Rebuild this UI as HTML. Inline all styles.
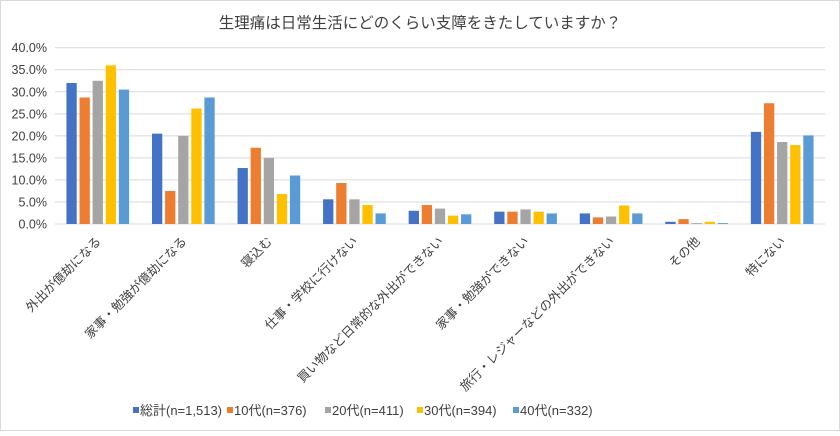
<!DOCTYPE html>
<html><head><meta charset="utf-8">
<style>
body{margin:0;background:#fff;}
svg text{font-family:"Liberation Sans","Noto Sans CJK JP",sans-serif;fill:#404040;}
</style></head>
<body>
<svg id="chart" width="840" height="431" xmlns="http://www.w3.org/2000/svg">
<rect x="0.5" y="0.5" width="839" height="430" fill="#fff" stroke="#d9d9d9"/>
<text x="420" y="28" text-anchor="middle" font-size="15.5">生理痛は日常生活にどのくらい支障をきたしていますか？</text>
<g id="grid"></g><g id="bars"></g><g id="xlabels"></g><g id="legend"></g>
</svg>
<script>
const categories=["外出が億劫になる","家事・勉強が億劫になる","寝込む","仕事・学校に行けない","買い物など日常的な外出ができない","家事・勉強ができない","旅行・レジャーなどの外出ができない","その他","特にない"];
const seriesNames=["総計(n=1,513)","10代(n=376)","20代(n=411)","30代(n=394)","40代(n=332)"];
const total=[32.0,20.5,12.7,5.6,3.0,2.8,2.4,0.5,20.9];
const teens=[28.7,7.5,17.3,9.3,4.3,2.8,1.5,1.1,27.4];
const twenties=[32.5,20.0,15.0,5.6,3.5,3.3,1.7,0.2,18.6];
const thirties=[36.0,26.2,6.8,4.3,1.9,2.8,4.2,0.5,17.9];
const forties=[30.5,28.7,11.0,2.4,2.2,2.4,2.4,0.2,20.1];
const yTicks=[0,5,10,15,20,25,30,35,40];
const colors=["#4472c4","#ed7d31","#a5a5a5","#ffc000","#5b9bd5"];
const series=[total,teens,twenties,thirties,forties];
const NS="http://www.w3.org/2000/svg";
const x0=55,x1=825,yTop=47.7,yBot=224,yMax=40;
const y=v=>yBot-(v/yMax)*(yBot-yTop);
const band=(x1-x0)/categories.length;
const bw=10.3,gap=2.8;
function mk(t,a,p){const e=document.createElementNS(NS,t);for(const k in a)e.setAttribute(k,a[k]);p.appendChild(e);return e;}
const grid=document.getElementById('grid');
yTicks.forEach(t=>{
 const l=mk('line',{x1:x0,x2:x1,y1:y(t),y2:y(t),stroke:'#d9d9d9','stroke-width':1},grid);
 
 
 const tx=mk('text',{x:47,y:y(t)+4.5,'text-anchor':'end','font-size':12.5},grid);
 tx.textContent=t.toFixed(1)+'%';
 
 
});
const bars=document.getElementById('bars');
const groupW=5*bw+4*gap;
categories.forEach((c,i)=>{
 const cx=x0+band*(i+0.5);
 series.forEach((s,j)=>{
  const bx=cx-groupW/2+j*(bw+gap);
  const r=mk('rect',{x:bx,y:y(s[i]),width:bw,height:yBot-y(s[i]),fill:colors[j]},bars);
  
  
 });
 const t=mk('text',{x:cx+4,y:242,'text-anchor':'end','font-size':12.5,transform:`rotate(-45 ${cx+4} 242)`},document.getElementById('xlabels'));
 t.textContent=c;
 
 
});
const lg=document.getElementById('legend');
const lx=[133,227,325,417,513];
seriesNames.forEach((n,j)=>{
 const g=mk('g',{},lg);
 
 
 mk('rect',{x:lx[j],y:407,width:6,height:6,fill:colors[j]},g);
 const t=mk('text',{x:lx[j]+7,y:415,'font-size':13},g);
 t.textContent=n;
});
</script>
</body></html>
